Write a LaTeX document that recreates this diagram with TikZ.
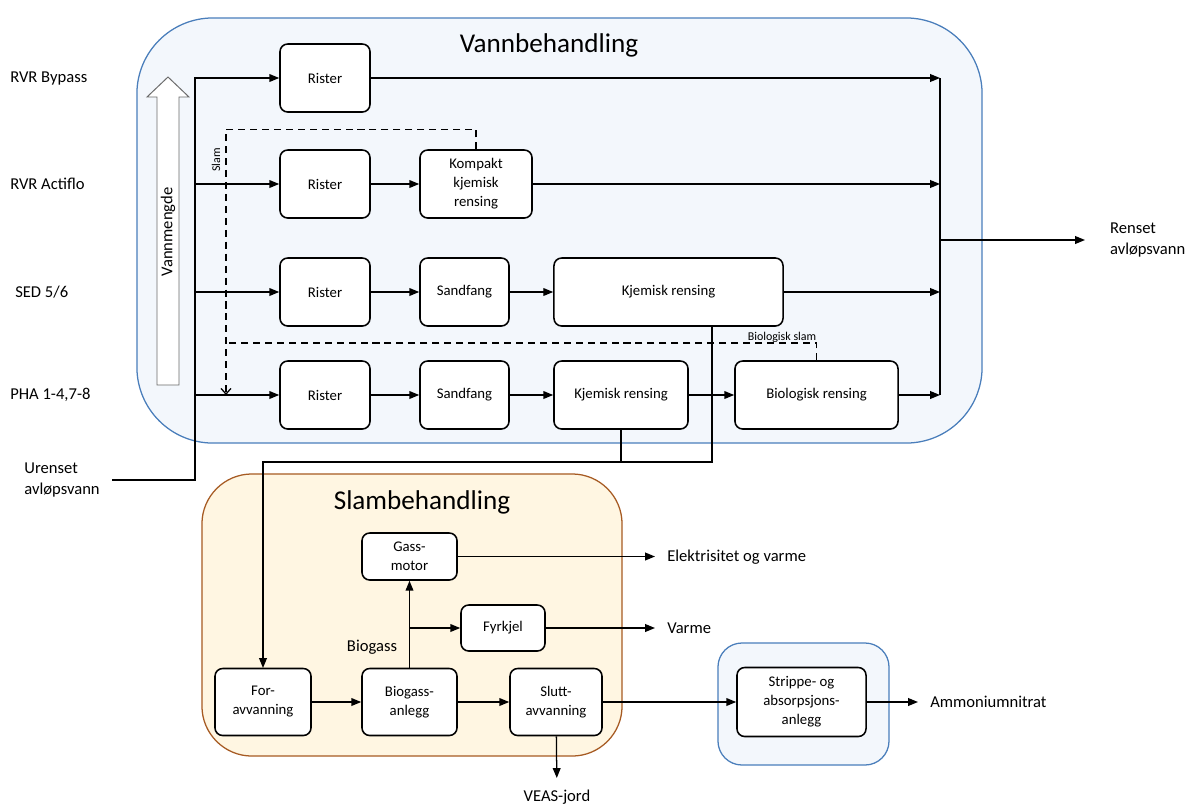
\documentclass[tikz,border=0pt]{standalone}
\usepackage{fontspec}
\setmainfont{Carlito}
\usepackage{xcolor}
\definecolor{WaterEdge}{HTML}{4A7EBB}
\definecolor{WaterFill}{HTML}{F3F7FC}
\definecolor{SludgeEdge}{HTML}{A65A22}
\definecolor{SludgeFill}{HTML}{FFF6E2}
\definecolor{FlowGrey}{HTML}{6B6B6B}
\usetikzlibrary{positioning, arrows.meta}

\begin{document}
\begin{tikzpicture}[
    x=0.025cm, y=-0.025cm,
    >={Triangle[length=7pt, width=5.5pt]},
    box/.style={draw, line width=1.1pt, rounded corners=5.5pt, fill=white, align=center, font={\fontsize{10.5}{13.5}\selectfont}, inner sep=2pt},
    rowbox/.style={box, minimum height=1.7cm},
    slbox/.style={box, minimum height=1.675cm},
    waterpanel/.style={draw=WaterEdge, fill=WaterFill, line width=0.9pt},
    sludgepanel/.style={draw=SludgeEdge, fill=SludgeFill, line width=0.9pt},
    ttl/.style={font={\fontsize{19.3}{22}\selectfont}},
    line/.style={line width=0.9pt},
    arr/.style={line, ->},
    slamline/.style={line, dashed, dash pattern=on 5pt off 3.5pt},
    lab/.style={font={\fontsize{11.8}{15}\selectfont}, inner sep=0pt},
    outlab/.style={lab, anchor=west, align=left, inner xsep=0.3cm},
    tinylab/.style={font={\fontsize{8.5}{10}\selectfont}, inner sep=1pt}
]
\useasboundingbox (0,0) rectangle (1186,804);

% panels
\node[waterpanel, rounded corners=1.9cm, minimum width=21.125cm, minimum height=10.625cm] (water) at (559.5,230.5) {};
\node[ttl] (watertitle) at (549,45) {Vannbehandling};
\node[sludgepanel, rounded corners=1.25cm, minimum width=10.5cm, minimum height=7.05cm] (sludge) at (412,615) {};
\node[ttl] (sludgetitle) at (422,502) {Slambehandling};
\node[waterpanel, rounded corners=0.6cm, minimum width=4.275cm, minimum height=3.05cm] (strippanel) at (803.5,704) {};

% inlet names
\node[lab, anchor=west] (bypass) at (10,79) {RVR Bypass};
\node[lab, anchor=west] (actiflo) at (10,184) {RVR Actiflo};
\node[lab, anchor=west] (sed) at (15,292) {SED 5/6};
\node[lab, anchor=west] (pha) at (10,395) {PHA 1-4,7-8};
\node[lab, anchor=east, align=left, inner xsep=0.3cm] (urenset) at (112,480) {Urenset\\avløpsvann};

% water quantity arrow
\draw[draw=FlowGrey, fill=white, line width=0.7pt] (157,385) -- (157,97) -- (147,97) -- (168,77) -- (189,97) -- (179,97) -- (179,385) -- cycle;
\node[lab, rotate=90] (vmtxt) at (168,232) {Vannmengde};

% water lines
\node[rowbox, minimum width=2.25cm] (r1) at (325,78) {Rister};
\node[rowbox, minimum width=2.25cm] (r2) at (325,184) {Rister};
\node[rowbox, minimum width=2.8cm] (komp) at (476,184) {Kompakt\\kjemisk\\rensing};
\node[rowbox, minimum width=2.25cm] (r3) at (325,292) {Rister};
\node[rowbox, minimum width=2.225cm] (sand3) at (464.5,292) {Sandfang};
\node[rowbox, minimum width=5.725cm] (kj3) at (668.5,292) {Kjemisk rensing};
\node[rowbox, minimum width=2.25cm] (r4) at (325,395) {Rister};
\node[rowbox, minimum width=2.225cm] (sand4) at (464.5,395) {Sandfang};
\node[rowbox, minimum width=3.35cm] (kj4) at (621,395) {Kjemisk rensing};
\node[rowbox, minimum width=4.075cm] (bio) at (816.5,395) {Biologisk rensing};

\coordinate (trunk) at (195,480);
\coordinate (collect) at (940,240);
\coordinate (slamend) at (226,395);
\coordinate (slamjoin) at (226,343);
\coordinate (sludgeR) at (712,462);

\draw[arr] (urenset) -- (trunk) |- (r1);
\draw[arr] (trunk |- r2) -- (r2);
\draw[arr] (trunk |- r3) -- (r3);
\draw[arr] (trunk |- r4) -- (r4);
\draw[arr] (r2) -- (komp);
\draw[arr] (r3) -- (sand3);
\draw[arr] (sand3) -- (kj3);
\draw[arr] (r4) -- (sand4);
\draw[arr] (sand4) -- (kj4);
\draw[arr] (kj4) -- (bio);

\draw[arr] (r1) -- (collect |- r1);
\draw[arr] (komp) -- (collect |- komp);
\draw[arr] (kj3) -- (collect |- kj3);
\draw[arr] (bio) -- (collect |- bio);
\draw[line] (collect |- r1) -- (collect |- bio);
\node[outlab, inner xsep=0.62cm] (renset) at (1085,240) {Renset\\avløpsvann};
\draw[arr] (collect) -- (renset);

% sludge returns
\draw[slamline, -{Straight Barb[length=4pt, width=7pt]}] (komp.north) -- ++(0,-20) -| (slamend);
\node[tinylab, rotate=90] (slamtxt) at (216,160) {Slam};
\draw[slamline] (bio.north) |- (slamjoin);
\node[tinylab] (bioslamtxt) at (782,337) {Biologisk slam};

% sludge to treatment
\draw[arr] (sludgeR |- kj3.south) -- (sludgeR) -| (263,668);
\draw[line] (kj4) -- (kj4 |- sludgeR);

% sludge treatment
\node[slbox, minimum width=2.4cm] (forav) at (263,702) {For-\\avvanning};
\node[slbox, minimum width=2.375cm] (bga) at (409.5,702) {Biogass-\\anlegg};
\node[slbox, minimum width=2.3cm] (slutt) at (556,702) {Slutt-\\avvanning};
\node[box, minimum width=2.375cm, minimum height=1.175cm] (gm) at (409.5,556.5) {Gass-\\motor};
\node[box, minimum width=2.1cm, minimum height=1.15cm] (fyr) at (503,628) {Fyrkjel};
\node[box, minimum width=3.225cm, minimum height=1.725cm] (strip) at (801.5,702) {Strippe- og\\absorpsjons-\\anlegg};
\node[lab] (biogasstxt) at (372,647) {Biogass};

\draw[arr] (forav) -- (bga);
\draw[arr] (bga) -- (slutt);
\draw[arr] (bga) -- (gm);
\draw[arr] (bga |- fyr) -- (fyr);
\node[outlab] (elek) at (655,557) {Elektrisitet og varme};
\node[outlab] (varme) at (655,628) {Varme};
\draw[arr] (gm) -- (gm -| elek.west);
\draw[arr] (fyr) -- (varme);
\draw[arr] (slutt) -- (strip);
\node[outlab] (ammon) at (918,702) {Ammoniumnitrat};
\draw[arr] (strip) -- (ammon);
\node[lab, anchor=north, inner ysep=8pt] (veas) at (557,778) {VEAS-jord};
\draw[arr] (slutt) -- (veas);
\end{tikzpicture}
\end{document}
